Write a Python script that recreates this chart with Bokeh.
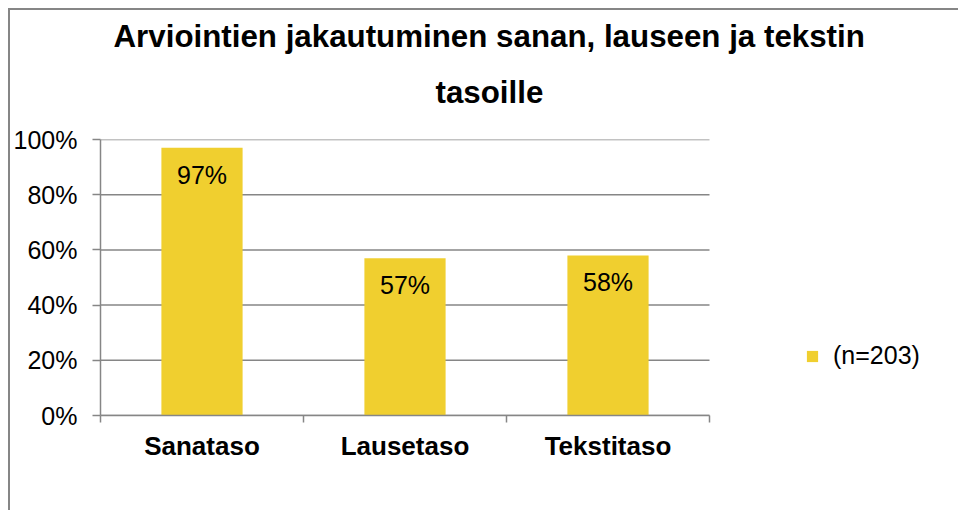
from bokeh.plotting import figure
from bokeh.models import (Range1d, LinearAxis, FixedTicker, NumeralTickFormatter,
                          CustomJSTickFormatter, Legend, LegendItem, ColumnDataSource, Title)
from bokeh.embed import file_html
from bokeh.resources import INLINE
from bokeh.core.properties import value

# ---- data ----
categories = ["Sanataso", "Lausetaso", "Tekstitaso"]
shares = [0.97, 0.57, 0.58]
bar_labels = ["97%", "57%", "58%"]
y_ticks = [0, 0.2, 0.4, 0.6, 0.8, 1.0]
series_name = "(n=203)"
title_lines = ["Arviointien jakautuminen sanan, lauseen ja tekstin", "tasoille"]

FONT = "Liberation Sans"
GRAY = "#868686"
YELLOW = "#F0CF2F"

# layout: the plotting frame spans x=100..958; the category area is the first 609 px of it
LEFT, FRAME_W, CAT_W = 100, 858, 609
n = len(categories)
x_end = n * FRAME_W / CAT_W
xpos = [i + 0.5 for i in range(n)]          # category centres (one unit per category)
boundaries = list(range(n + 1))             # category boundaries

src = ColumnDataSource(dict(x=xpos, share=shares, lab=bar_labels))

p = figure(width=958, height=510, output_backend="svg", toolbar_location=None,
           x_range=Range1d(0, x_end), y_range=Range1d(0, 1),
           x_axis_location=None,
           min_border_left=LEFT, min_border_right=0,
           min_border_top=139, min_border_bottom=95)
p.title = None
p.outline_line_color = None
p.background_fill_color = "white"
p.border_fill_color = None
# outer chart box (left and top edges)
p.styles = {
    "background": ("linear-gradient(#868686,#868686) 8px 8px / 2px 100% no-repeat, "
                   "linear-gradient(#868686,#868686) 8px 8px / 100% 2px no-repeat, white"),
}
p.xgrid.grid_line_color = None
p.ygrid.grid_line_color = None

# title: two single-line titles (closest to the frame added first)
for txt, off, stand in [(title_lines[1], 335, 59), (title_lines[0], 13, -21)]:
    t = Title(text=txt, align="left", offset=off, standoff=stand,
              text_font=FONT, text_font_style="bold", text_font_size="31.3px",
              text_color="black")
    p.add_layout(t, "above")

# y axis
ya = p.yaxis[0]
ya.ticker = FixedTicker(ticks=y_ticks)
ya.formatter = NumeralTickFormatter(format="0%")
ya.axis_line_color = GRAY
ya.axis_line_width = 1.5
ya.major_tick_line_color = GRAY
ya.major_tick_line_width = 1.5
ya.major_tick_in = 0
ya.major_tick_out = 8
ya.minor_tick_line_color = None
ya.major_label_standoff = 15
ya.major_label_text_font = FONT
ya.major_label_text_font_size = "25px"
ya.major_label_text_color = "black"

# horizontal gridlines, only across the category area
p.segment(x0=0, x1=n, y0=y_ticks, y1=y_ticks, line_color=GRAY, line_width=1.5)

# boundary ticks axis
ba = LinearAxis(ticker=FixedTicker(ticks=boundaries), bounds=(0, n),
                formatter=CustomJSTickFormatter(code="return ''"))
ba.axis_line_color = GRAY
ba.axis_line_width = 1.5
ba.major_tick_line_color = GRAY
ba.major_tick_line_width = 1.5
ba.major_tick_in = 0
ba.major_tick_out = 7
ba.minor_tick_line_color = None
ba.major_label_standoff = 0
ba.major_label_text_font_size = "1px"
p.add_layout(ba, "below")

# category label axis
ca = LinearAxis(ticker=FixedTicker(ticks=xpos),
                formatter=CustomJSTickFormatter(args=dict(names=categories),
                                                code="return names[Math.floor(tick)]"))
ca.axis_line_color = None
ca.major_tick_line_color = None
ca.minor_tick_line_color = None
ca.major_tick_out = 0
ca.major_tick_in = 0
ca.major_label_standoff = 8
ca.major_label_text_font = FONT
ca.major_label_text_font_style = "bold"
ca.major_label_text_font_size = "26px"
ca.major_label_text_color = "black"
p.add_layout(ca, "below")

# bars
r = p.vbar(x="x", top="share", width=0.4, source=src, fill_color=YELLOW, line_color=None)

# data labels
p.text(x="x", y="share", text="lab", source=src, y_offset=27,
       text_align="center", text_baseline="middle",
       text_font=value(FONT), text_font_size="25px", text_color="black")

# legend
legend = Legend(items=[LegendItem(label=series_name, renderers=[r])],
                location=(705, 45), orientation="vertical",
                padding=0, margin=0, spacing=0, border_line_color=None, background_fill_alpha=0,
                glyph_width=14, glyph_height=14, label_standoff=14,
                label_text_font=FONT, label_text_font_size="25px", label_text_color="black")
p.add_layout(legend)

open("out.html", "w").write(file_html(p, INLINE))
